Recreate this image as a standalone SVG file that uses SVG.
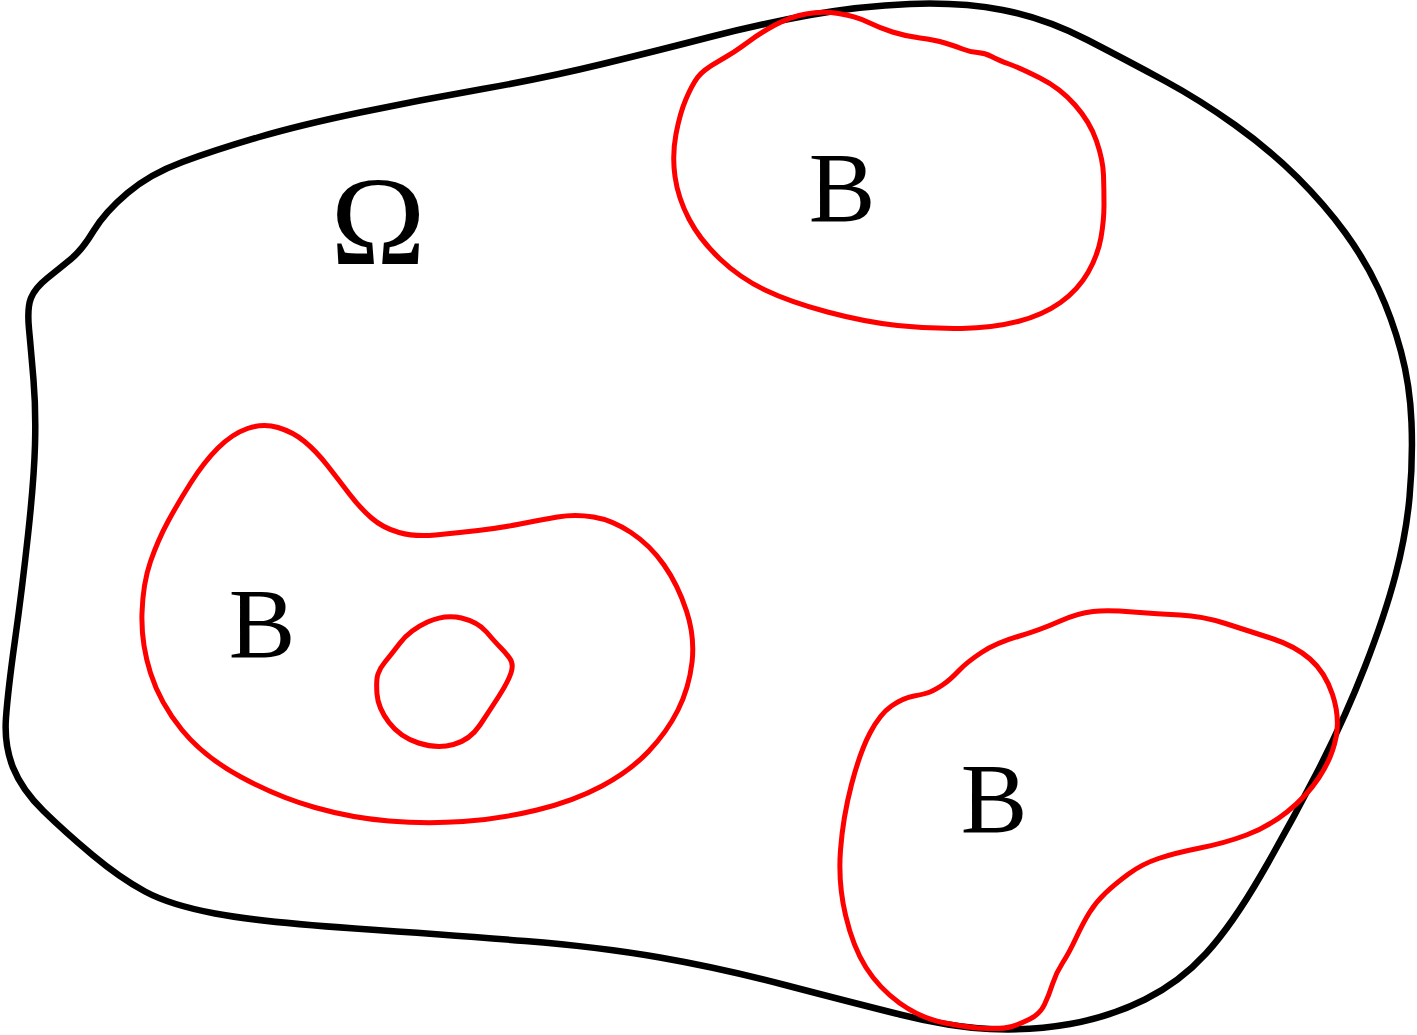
<svg xmlns="http://www.w3.org/2000/svg" width="1417" height="1035" viewBox="0 0 1417 1035">
<style>
.outer{fill:none;stroke:#000;stroke-width:6.5;stroke-linejoin:round}
.sub{fill:none;stroke:#ff0000;stroke-width:5;stroke-linejoin:round}
.lbl{font-family:"Liberation Serif","DejaVu Serif",serif;fill:#000;text-anchor:middle}
</style>
<rect width="1417" height="1035" fill="#fff"/>
<g id="omega-domain">
<path class="outer" d="M31,298 Q27,308 29,329 Q31,350 33.5,380 Q36,410 35,445 Q34,480 28,535 Q22,590 15,640 Q8,690 6,717.5 Q4,745 13,767.5 Q22,790 43.5,811 Q65,832 92.5,855 Q120,878 145,891.5 Q170,905 215,913.5 Q260,922 355,928.5 Q450,935 525,941 Q600,947 660,957.5 Q720,968 785,985 Q850,1002 900,1014.5 Q950,1027 990,1029 Q1030,1031 1070,1024 Q1110,1017 1145,999.5 Q1180,982 1206,953.5 Q1232,925 1261,875 Q1290,825 1317.5,771.5 Q1345,718 1365,666.5 Q1385,615 1395.5,575 Q1406,535 1409.5,497.5 Q1413,460 1411.5,422.5 Q1410,385 1401,351.5 Q1392,318 1378.5,289 Q1365,260 1345,232.5 Q1325,205 1297.5,177.5 Q1270,150 1235,125 Q1200,100 1165,81 Q1130,62 1087.5,40 Q1045,18 1002.5,10 Q960,2 910,4 Q860,6 810,15 Q760,24 710,37 Q660,50 602.5,64 Q545,78 482.5,89 Q420,100 360,112.5 Q300,125 257.5,137.5 Q215,150 182.5,162 Q150,174 127.5,193 Q105,212 93.5,231 Q82,250 71,259 Q60,268 47.5,278 Q35,288 31,298 Z"/>
<text class="lbl" x="378" y="264" font-size="128">Ω</text>
</g>
<g id="region-b-top">
<path class="sub" d="M697.5,77.5 Q703,70 719,61 Q735,52 747.5,42.5 Q760,33 775,25 Q790,17 806,14 Q822,11 838.5,13.5 Q855,16 867.5,22 Q880,28 892.5,32 Q905,36 920,38 Q935,40 945,43 Q955,46 962.5,49 Q970,52 977.5,52.5 Q985,53 991.5,56.5 Q998,60 1009,64 Q1020,68 1040,78 Q1060,88 1075,105 Q1090,122 1096.5,141 Q1103,160 1103.5,175 Q1104,190 1104,205 Q1104,220 1101,237.5 Q1098,255 1088,272.5 Q1078,290 1060.5,302.5 Q1043,315 1018,321.5 Q993,328 961.5,328.5 Q930,329 897.5,325.5 Q865,322 827.5,312 Q790,302 765,290 Q740,278 720,259 Q700,240 689,219 Q678,198 675,176.5 Q672,155 676,134 Q680,113 686,99 Q692,85 697.5,77.5 Z"/>
<text class="lbl" x="842" y="221" font-size="100">B</text>
</g>
<g id="region-b-left">
<path class="sub" d="M168,521.5 Q178,503 191,482.5 Q204,462 218,448 Q232,434 247.5,428.5 Q263,423 278,427.5 Q293,432 304.5,441.5 Q316,451 327,465 Q338,479 349,493.5 Q360,508 371.5,518 Q383,528 399,532.5 Q415,537 435.5,535 Q456,533 478,530.5 Q500,528 520,524 Q540,520 557.5,517 Q575,514 593.5,517 Q612,520 631,532.5 Q650,545 664,565 Q678,585 686.5,611 Q695,637 692,662.5 Q689,688 678,710 Q667,732 648.5,751.5 Q630,771 602,786 Q574,801 537,810 Q500,819 463,821.5 Q426,824 389,821 Q352,818 315,807.5 Q278,797 241,777 Q204,757 182,730 Q160,703 150.5,673 Q141,643 142,613 Q143,583 150.5,561.5 Q158,540 168,521.5 Z"/>
<path class="sub" d="M377,694 Q376,680 378,674 Q380,668 385,662 Q390,656 400,643 Q410,630 427.5,622 Q445,614 461.5,618 Q478,622 486.5,632 Q495,642 500,647 Q505,652 509.5,658 Q514,664 511,673 Q508,682 499,696 Q490,710 480,725 Q470,740 453.5,744.5 Q437,749 418.5,743 Q400,737 389,722.5 Q378,708 377,694 Z"/>
<text class="lbl" x="262" y="657" font-size="100">B</text>
</g>
<g id="region-b-bottom">
<path class="sub" d="M914,696 Q925,694 930,692 Q935,690 942.5,685 Q950,680 958.5,671 Q967,662 981.5,652.5 Q996,643 1018,636.5 Q1040,630 1059,621.5 Q1078,613 1093,611.5 Q1108,610 1133,612 Q1158,614 1180,615 Q1202,616 1225.5,623.5 Q1249,631 1272,638.5 Q1295,646 1310,659 Q1325,672 1332.5,694.5 Q1340,717 1336,737.5 Q1332,758 1319,777.5 Q1306,797 1287,812 Q1268,827 1246.5,835 Q1225,843 1200,848 Q1175,853 1158.5,858.5 Q1142,864 1128.5,874 Q1115,884 1105.5,893 Q1096,902 1089.5,912.5 Q1083,923 1076,938 Q1069,953 1062.5,963 Q1056,973 1052.5,984 Q1049,995 1044.5,1004.5 Q1040,1014 1030,1019 Q1020,1024 1012,1026.5 Q1004,1029 987,1028.5 Q970,1028 945,1023 Q920,1018 899.5,1003 Q879,988 866,967.5 Q853,947 845.5,915 Q838,883 840.5,850 Q843,817 851.5,784.5 Q860,752 870,733 Q880,714 891.5,706 Q903,698 914,696 Z"/>
<text class="lbl" x="994" y="832" font-size="100">B</text>
</g>
</svg>
